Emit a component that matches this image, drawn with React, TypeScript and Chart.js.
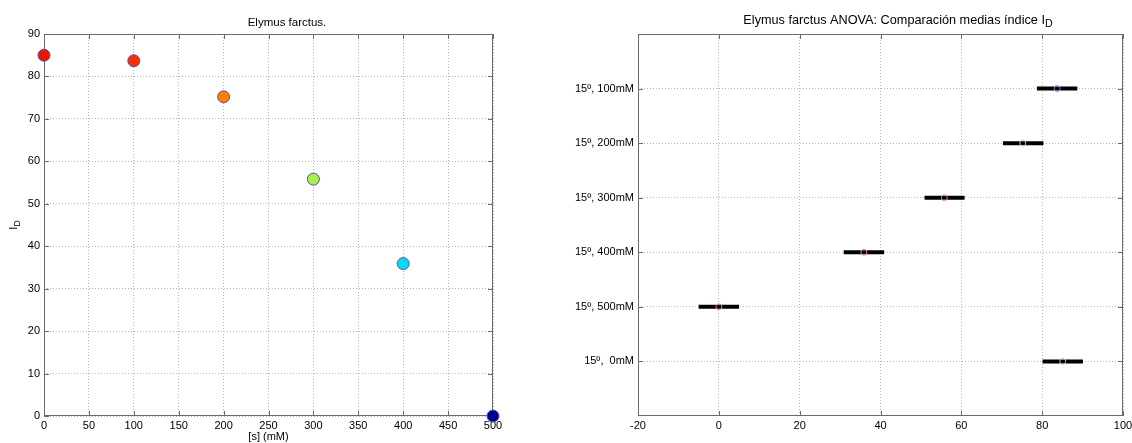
import React, { useEffect, useRef } from "react";
import { Chart, registerables } from "chart.js";
Chart.register(...registerables);

const FONT = "'Liberation Sans', Arial, Helvetica, sans-serif";

// Left chart data
const saltConc = [0, 100, 200, 300, 400, 500];
const germIndex = [85.0, 83.7, 75.2, 55.8, 35.9, 0.0];
const pointColors = ["#f01400", "#ff2e00", "#ff8000", "#a5f04a", "#00dcf8", "#000090"];

// Right chart data (multiple comparison of means)
const groupLabels = ["15º, 100mM", "15º, 200mM", "15º, 300mM", "15º, 400mM", "15º, 500mM", "15º,  0mM"];
const groupMeans = [83.7, 75.2, 55.8, 35.9, 0.0, 85.1];
const groupLower = [78.7, 70.3, 50.9, 30.9, -5.0, 80.1];
const groupUpper = [88.7, 80.3, 60.8, 40.9, 5.0, 90.1];
const meanColors = ["#8a8ae0", "#c8c8c8", "#e58a8a", "#e58a8a", "#e58a8a", "#c8c8c8"];

const GRID = "#b4b4b4";
const FRAME = "#6a6a6a";

function framePlugin(id: string) {
  return {
    id,
    beforeDatasetsDraw(chart: any) {
      const { ctx, chartArea: a, scales } = chart;
      ctx.save();
      ctx.strokeStyle = FRAME;
      ctx.lineWidth = 1;
      ctx.setLineDash([]);
      ctx.strokeRect(a.left + 0.5, a.top + 0.5, a.right - a.left - 1, a.bottom - a.top - 1);
      const L = 5;
      ctx.beginPath();
      for (const t of scales.x.ticks) {
        const px = Math.round(scales.x.getPixelForValue(t.value)) + 0.5;
        ctx.moveTo(px, a.bottom);
        ctx.lineTo(px, a.bottom - L);
        ctx.moveTo(px, a.top);
        ctx.lineTo(px, a.top + L);
      }
      for (const t of scales.y.ticks) {
        const py = Math.round(scales.y.getPixelForValue(t.value)) + 0.5;
        ctx.moveTo(a.left, py);
        ctx.lineTo(a.left + L, py);
        ctx.moveTo(a.right, py);
        ctx.lineTo(a.right - L, py);
      }
      ctx.stroke();
      ctx.restore();
    },
  };
}

function textWithSub(ctx: CanvasRenderingContext2D, main: string, sub: string, cx: number, cy: number, size: number) {
  ctx.font = `${size}px ${FONT}`;
  const w1 = ctx.measureText(main).width;
  ctx.font = `${size - 2}px ${FONT}`;
  const w2 = ctx.measureText(sub).width;
  const x0 = cx - (w1 + w2) / 2;
  ctx.textAlign = "left";
  ctx.textBaseline = "middle";
  ctx.font = `${size}px ${FONT}`;
  ctx.fillText(main, x0, cy);
  ctx.font = `${size - 2}px ${FONT}`;
  ctx.fillText(sub, x0 + w1, cy + 4);
}

const leftTextPlugin = {
  id: "leftText",
  afterDraw(chart: any) {
    const { ctx, chartArea: a } = chart;
    ctx.save();
    ctx.fillStyle = "#000";
    ctx.textAlign = "center";
    ctx.textBaseline = "middle";
    ctx.font = `11.5px ${FONT}`;
    ctx.fillText("Elymus farctus.", 287, a.top - 11);
    ctx.font = `11px ${FONT}`;
    ctx.fillText("[s] (mM)", (a.left + a.right) / 2, a.bottom + 21);
    ctx.translate(14, (a.top + a.bottom) / 2);
    ctx.rotate(-Math.PI / 2);
    textWithSub(ctx, "I", "D", 0, 0, 11);
    ctx.restore();
  },
};

const rightTextPlugin = {
  id: "rightText",
  afterDraw(chart: any) {
    const { ctx, chartArea: a } = chart;
    ctx.save();
    ctx.fillStyle = "#000";
    textWithSub(ctx, "Elymus farctus ANOVA: Comparación medias índice I", "D", 898 - 566, a.top - 14, 12.7);
    ctx.restore();
  },
};

const tickFont = { family: FONT, size: 11 };

export default function App() {
  const leftRef = useRef<HTMLCanvasElement>(null);
  const rightRef = useRef<HTMLCanvasElement>(null);

  useEffect(() => {
    const left = new Chart(leftRef.current!, {
      type: "scatter",
      data: {
        datasets: [
          {
            data: saltConc.map((x, i) => ({ x, y: germIndex[i] })),
            backgroundColor: pointColors,
            borderColor: "#5a4fa8",
            borderWidth: 1,
            pointRadius: 6,
            pointHoverRadius: 6,
            clip: false as any,
          },
        ],
      },
      options: {
        animation: false,
        responsive: false,
        events: [],
        layout: { padding: { top: 34, right: 73, left: 0, bottom: 0 } },
        plugins: { legend: { display: false }, tooltip: { enabled: false }, title: { display: false } },
        scales: {
          x: {
            type: "linear",
            min: 0,
            max: 500,
            ticks: { stepSize: 50, font: tickFont, color: "#000", padding: 3, maxRotation: 0 },
            grid: { color: GRID, drawTicks: false },
            border: { display: false, dash: [1, 2] },
            afterFit: (s: any) => { s.height = 27; },
          },
          y: {
            type: "linear",
            min: 0,
            max: 90,
            ticks: { stepSize: 10, font: tickFont, color: "#000", padding: 4 },
            grid: { color: GRID, drawTicks: false },
            border: { display: false, dash: [1, 2] },
            afterFit: (s: any) => { s.width = 44; },
          },
        },
      },
      plugins: [framePlugin("frameL"), leftTextPlugin],
    });

    const right = new Chart(rightRef.current!, {
      type: "scatter",
      data: {
        datasets: [
          {
            type: "scatter",
            data: groupMeans.map((x, i) => ({ x, y: i + 1 })),
            backgroundColor: "rgba(0,0,0,0)",
            borderColor: meanColors,
            borderWidth: 1,
            pointRadius: 3,
            pointHoverRadius: 3,
            clip: false as any,
            order: 0,
          },
          ...groupLabels.map((_, i) => ({
            type: "line" as const,
            data: [
              { x: groupLower[i], y: i + 1 },
              { x: groupUpper[i], y: i + 1 },
            ],
            borderColor: "#000",
            borderWidth: 4,
            pointRadius: 0,
            showLine: true,
            borderCapStyle: "butt" as const,
            order: 1,
          })),
        ],
      },
      options: {
        animation: false,
        responsive: false,
        events: [],
        layout: { padding: { top: 34, right: 9, left: 0, bottom: 0 } },
        plugins: { legend: { display: false }, tooltip: { enabled: false }, title: { display: false } },
        scales: {
          x: {
            type: "linear",
            min: -20,
            max: 100,
            ticks: { stepSize: 20, font: tickFont, color: "#000", padding: 3, maxRotation: 0 },
            grid: { color: GRID, drawTicks: false },
            border: { display: false, dash: [1, 2] },
            afterFit: (s: any) => {
              s.height = 27;
              s.paddingRight = 0;
              s.paddingLeft = 0;
            },
          },
          y: {
            type: "linear",
            min: 0,
            max: 7,
            reverse: true,
            afterBuildTicks: (s: any) => {
              s.ticks = groupLabels.map((_, i) => ({ value: i + 1 }));
            },
            ticks: {
              font: tickFont,
              color: "#000",
              padding: 4,
              autoSkip: false,
              callback: (v: any) => groupLabels[Number(v) - 1] ?? "",
            },
            grid: { color: GRID, drawTicks: false },
            border: { display: false, dash: [1, 2] },
            afterFit: (s: any) => { s.width = 72; },
          },
        },
      },
      plugins: [framePlugin("frameR"), rightTextPlugin],
    });

    return () => {
      left.destroy();
      right.destroy();
    };
  }, []);

  return (
    <div style={{ position: "absolute", left: 0, top: 0, width: 1132, height: 443, background: "#fff" }}>
      <canvas ref={leftRef} width={566} height={443} style={{ position: "absolute", left: 0, top: 0, display: "block" }} />
      <canvas ref={rightRef} width={566} height={443} style={{ position: "absolute", left: 566, top: 0, display: "block" }} />
    </div>
  );
}
